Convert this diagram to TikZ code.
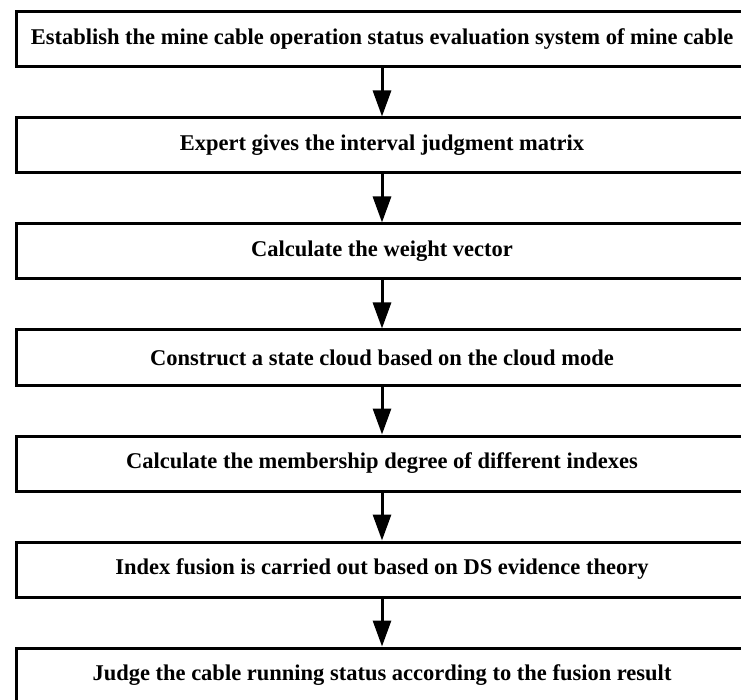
\documentclass[tikz,border=0pt]{standalone}
\usepackage{fontspec}
\setmainfont{Liberation Serif}
\usetikzlibrary{arrows.meta,positioning}

\begin{document}
\begin{tikzpicture}[>={Triangle[length=26pt,width=18pt]},
    box/.style={rectangle, draw, line width=3pt, minimum width=731pt, minimum height=55pt, inner sep=0pt, align=center, font=\fontsize{22.5}{26}\selectfont\bfseries},
    flow/.style={->, line width=3pt},
    node distance=48pt]
    \useasboundingbox (0,0) rectangle (741pt,-700pt);
    \node [box] (est) at (382pt,-39.5pt) {Establish the mine cable operation status evaluation system of mine cable};
    \node [box, below=of est] (exp) {Expert gives the interval judgment matrix};
    \node [box, below=of exp] (wv) {Calculate the weight vector};
    \node [box, below=of wv] (sc) {Construct a state cloud based on the cloud mode};
    \node [box, below=of sc] (md) {Calculate the membership degree of different indexes};
    \node [box, below=of md] (fus) {Index fusion is carried out based on DS evidence theory};
    \node [box, below=of fus] (jdg) {Judge the cable running status according to the fusion result};
    \draw [flow] (est) -- (exp);
    \draw [flow] (exp) -- (wv);
    \draw [flow] (wv) -- (sc);
    \draw [flow] (sc) -- (md);
    \draw [flow] (md) -- (fus);
    \draw [flow] (fus) -- (jdg);
\end{tikzpicture}
\end{document}
